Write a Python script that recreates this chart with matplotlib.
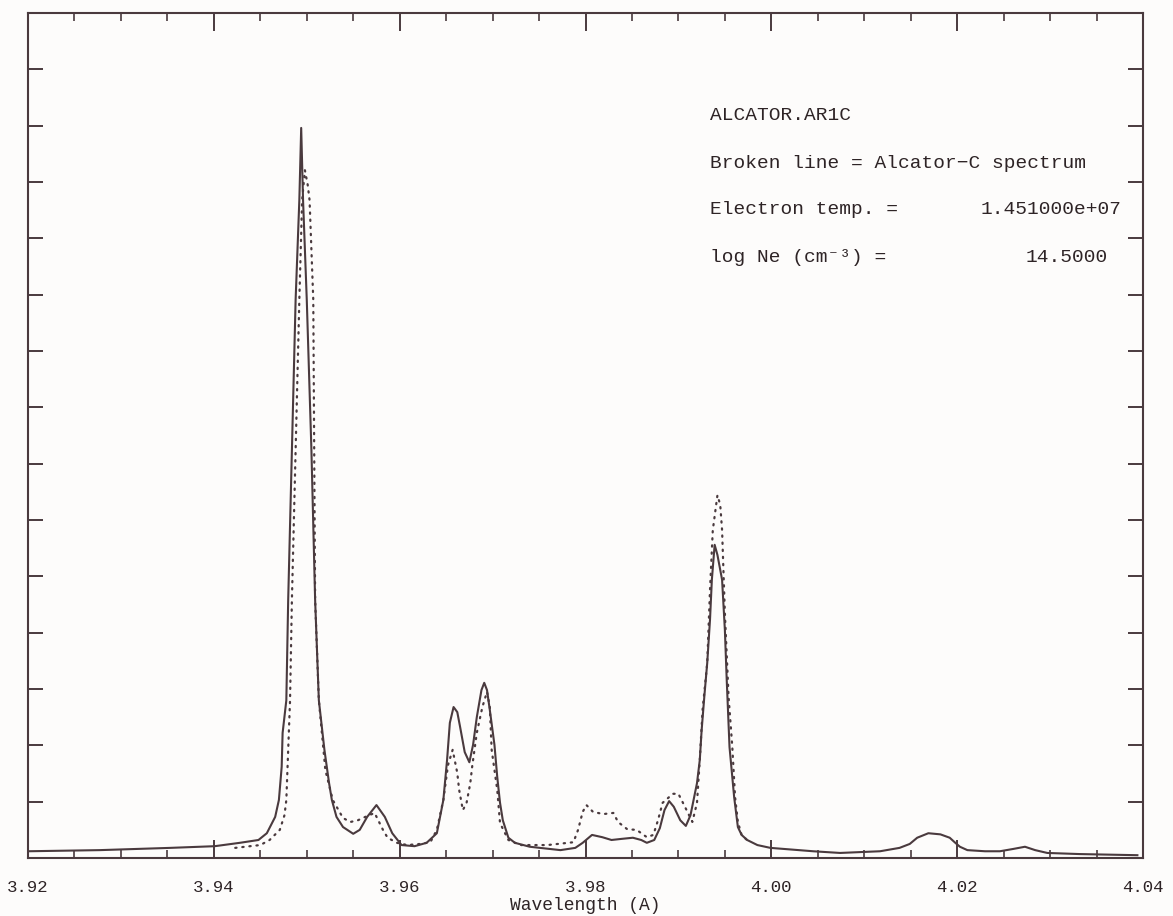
import matplotlib
matplotlib.use("Agg")
import matplotlib.pyplot as plt
from matplotlib.ticker import MultipleLocator, NullFormatter

# Synthetic spectrum (solid line)
wl_model = [3.9200, 3.9277, 3.9353, 3.9401, 3.9428, 3.9448, 3.9457, 3.9466, 3.9470,
            3.9473, 3.9474, 3.9478, 3.9480, 3.9484, 3.9488, 3.9492, 3.9494, 3.9496,
            3.9500, 3.9505, 3.9509, 3.9513, 3.9519, 3.9524, 3.9527, 3.9532, 3.9539,
            3.9550, 3.9557, 3.9565, 3.9575, 3.9584, 3.9592, 3.9602, 3.9616, 3.9629,
            3.9640, 3.9647, 3.9651, 3.9654, 3.9658, 3.9662, 3.9665, 3.9670, 3.9675,
            3.9679, 3.9683, 3.9688, 3.9691, 3.9694, 3.9697, 3.9702, 3.9705, 3.9708,
            3.9711, 3.9717, 3.9724, 3.9740, 3.9773, 3.9789, 3.9797, 3.9807, 3.9818,
            3.9828, 3.9839, 3.9851, 3.9860, 3.9866, 3.9874, 3.9880, 3.9885, 3.9890,
            3.9895, 3.9902, 3.9908, 3.9913, 3.9920, 3.9923, 3.9925, 3.9928, 3.9931,
            3.9934, 3.9936, 3.9939, 3.9942, 3.9947, 3.9950, 3.9952, 3.9955, 3.9960,
            3.9964, 3.9968, 3.9974, 3.9985, 3.9999, 4.0045, 4.0074, 4.0117, 4.0138,
            4.0149, 4.0157, 4.0169, 4.0182, 4.0192, 4.0198, 4.0203, 4.0211, 4.0230,
            4.0246, 4.0260, 4.0273, 4.0284, 4.0297, 4.0332, 4.0394]
int_model = [0.12, 0.14, 0.18, 0.21, 0.27, 0.32, 0.44, 0.73, 1.03,
             1.62, 2.22, 2.80, 4.58, 7.24, 9.91, 11.68, 12.96, 11.68,
             9.91, 7.24, 4.58, 2.80, 1.92, 1.33, 1.03, 0.73, 0.55,
             0.43, 0.50, 0.73, 0.94, 0.73, 0.44, 0.23, 0.21, 0.27,
             0.44, 1.03, 1.74, 2.40, 2.68, 2.59, 2.33, 1.88, 1.70,
             2.01, 2.50, 2.98, 3.11, 2.98, 2.63, 2.01, 1.44, 0.98,
             0.67, 0.36, 0.27, 0.20, 0.14, 0.18, 0.27, 0.41, 0.37,
             0.32, 0.34, 0.36, 0.32, 0.27, 0.32, 0.53, 0.85, 1.01,
             0.91, 0.67, 0.57, 0.76, 1.33, 1.74, 2.27, 2.89, 3.46,
             4.23, 4.94, 5.56, 5.38, 4.94, 4.05, 3.16, 1.97, 1.08,
             0.55, 0.41, 0.32, 0.23, 0.18, 0.12, 0.09, 0.12, 0.18,
             0.25, 0.36, 0.44, 0.42, 0.36, 0.27, 0.20, 0.14, 0.12,
             0.12, 0.16, 0.20, 0.14, 0.09, 0.07, 0.05]

# Alcator-C measured spectrum (broken line)
wl_obs = [3.9423, 3.9439, 3.9450, 3.9460, 3.9471, 3.9476, 3.9478, 3.9480, 3.9482,
          3.9484, 3.9488, 3.9492, 3.9495, 3.9498, 3.9501, 3.9503, 3.9507, 3.9508,
          3.9509, 3.9513, 3.9520, 3.9528, 3.9539, 3.9547, 3.9555, 3.9563, 3.9573,
          3.9582, 3.9587, 3.9597, 3.9608, 3.9622, 3.9633, 3.9640, 3.9647, 3.9652,
          3.9657, 3.9662, 3.9664, 3.9668, 3.9672, 3.9676, 3.9678, 3.9683, 3.9689,
          3.9694, 3.9697, 3.9699, 3.9705, 3.9708, 3.9717, 3.9730, 3.9759, 3.9787,
          3.9792, 3.9797, 3.9801, 3.9808, 3.9819, 3.9830, 3.9835, 3.9845, 3.9855,
          3.9866, 3.9873, 3.9878, 3.9883, 3.9894, 3.9900, 3.9907, 3.9915, 3.9920,
          3.9923, 3.9926, 3.9931, 3.9934, 3.9937, 3.9942, 3.9945, 3.9947, 3.9950,
          3.9954, 3.9958, 3.9961, 3.9964, 3.9968, 3.9977]
int_obs = [0.18, 0.21, 0.23, 0.32, 0.50, 0.76, 1.03, 1.92, 2.80,
           4.58, 7.24, 9.91, 11.68, 12.21, 11.95, 11.68, 9.91, 7.24,
           4.58, 2.80, 1.56, 1.03, 0.71, 0.64, 0.67, 0.73, 0.80,
           0.50, 0.36, 0.27, 0.23, 0.25, 0.28, 0.50, 1.03, 1.65,
           1.92, 1.51, 1.21, 0.85, 0.98, 1.33, 1.62, 2.22, 2.68,
           2.95, 2.68, 1.92, 1.21, 0.62, 0.32, 0.23, 0.23, 0.28,
           0.50, 0.82, 0.94, 0.82, 0.78, 0.80, 0.64, 0.51, 0.50,
           0.37, 0.41, 0.67, 0.98, 1.14, 1.14, 0.91, 0.64, 0.98,
           1.74, 2.63, 3.46, 4.76, 5.82, 6.44, 6.27, 5.82, 4.35,
           2.86, 1.97, 1.08, 0.64, 0.41, 0.27]

x_ticks = [3.92, 3.94, 3.96, 3.98, 4.00, 4.02, 4.04]
x_tick_labels = ["3.92", "3.94", "3.96", "3.98", "4.00", "4.02", "4.04"]

info_lines = ["ALCATOR.AR1C", "Broken line = Alcator\u2212C spectrum",
              "Electron temp. =", "log Ne (cm\u207b\u00b3) ="]
info_values = ["", "", "1.451000e+07", "14.5000"]

ink = "#4a3a3e"
txt = "#2e2426"
mono = ["Liberation Mono", "DejaVu Sans Mono"]

fig = plt.figure(figsize=(11.73, 9.16), dpi=100)
fig.patch.set_facecolor("#fdfcfb")
ax = fig.add_axes([0.0239, 0.0633, 0.9505, 0.9225])
ax.set_facecolor("#fdfcfb")

ax.plot(wl_model, int_model, color=ink, lw=1.5, solid_joinstyle="round")
ax.plot(wl_obs, int_obs, color=ink, lw=1.6, linestyle=(0, (0.6, 2.6)),
        dash_capstyle="round")

ax.set_xlim(3.92, 4.04)
ax.set_ylim(0, 15)
ax.set_xticks(x_ticks)
ax.set_xticklabels(x_tick_labels, fontfamily=mono, fontsize=12.5, color=txt)
ax.xaxis.set_minor_locator(MultipleLocator(0.005))
ax.yaxis.set_major_locator(MultipleLocator(1))
ax.yaxis.set_major_formatter(NullFormatter())
ax.tick_params(axis="x", which="major", direction="in", length=13, width=1.4,
               top=True, bottom=True, pad=16, colors=ink, labelcolor=txt)
ax.tick_params(axis="x", which="minor", direction="in", length=6, width=1.2,
               top=True, bottom=True, colors=ink)
ax.tick_params(axis="y", which="major", direction="in", length=11, width=1.4,
               left=True, right=True, colors=ink)
for s in ax.spines.values():
    s.set_color(ink)
    s.set_linewidth(1.5)

ax.set_xlabel("Wavelength (A)", fontfamily=mono, fontsize=13,
              color=txt, labelpad=1)

ys = [115, 163, 210, 258]
for line, val, yp in zip(info_lines, info_values, ys):
    yf = 1 - yp / 916
    fig.text(710 / 1173, yf, line, fontfamily=mono, fontsize=14,
             color=txt, va="center", ha="left")
    if val:
        xr = 1122 if val.startswith("1.") else 1108
        fig.text(xr / 1173, yf, val, fontfamily=mono, fontsize=14,
                 color=txt, va="center", ha="right")

fig.savefig("out.png", dpi=100, facecolor=fig.get_facecolor())
